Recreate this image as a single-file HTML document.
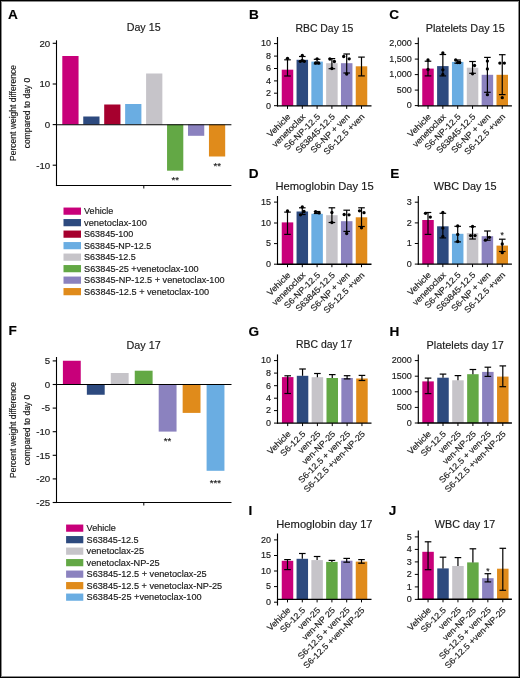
<!DOCTYPE html><html><head><meta charset="utf-8"><style>html,body{margin:0;padding:0;background:#fff;width:520px;height:678px;overflow:hidden;position:relative}text{stroke:#1a1a1a;stroke-width:0.16px}</style></head><body><svg width="520" height="678" viewBox="0 0 520 678" style="position:absolute;left:0;top:0;will-change:transform;font-family:'Liberation Sans', sans-serif" fill="#1a1a1a">
<rect x="0" y="0" width="520" height="678" fill="#fff"/>
<text x="8.0" y="18.6" font-size="13.6" font-weight="bold" fill="#000" stroke="#000" stroke-width="0.25">A</text>
<text x="249.0" y="18.7" font-size="13.6" font-weight="bold" fill="#000" stroke="#000" stroke-width="0.25">B</text>
<text x="389.3" y="18.8" font-size="13.6" font-weight="bold" fill="#000" stroke="#000" stroke-width="0.25">C</text>
<text x="248.8" y="178.0" font-size="13.6" font-weight="bold" fill="#000" stroke="#000" stroke-width="0.25">D</text>
<text x="390.2" y="178.0" font-size="13.6" font-weight="bold" fill="#000" stroke="#000" stroke-width="0.25">E</text>
<text x="8.6" y="335.3" font-size="13.6" font-weight="bold" fill="#000" stroke="#000" stroke-width="0.25">F</text>
<text x="248.6" y="335.7" font-size="13.6" font-weight="bold" fill="#000" stroke="#000" stroke-width="0.25">G</text>
<text x="389.6" y="336.0" font-size="13.6" font-weight="bold" fill="#000" stroke="#000" stroke-width="0.25">H</text>
<text x="248.6" y="515.0999999999999" font-size="13.6" font-weight="bold" fill="#000" stroke="#000" stroke-width="0.25">I</text>
<text x="388.8" y="514.5999999999999" font-size="13.6" font-weight="bold" fill="#000" stroke="#000" stroke-width="0.25">J</text>
<text x="126.69999999999999" y="30.9" font-size="10.6" textLength="33.9" lengthAdjust="spacingAndGlyphs">Day 15</text>
<text x="295.40000000000003" y="31.6" font-size="10.6" textLength="58.0" lengthAdjust="spacingAndGlyphs">RBC Day 15</text>
<text x="425.70000000000005" y="31.6" font-size="10.6" textLength="79.0" lengthAdjust="spacingAndGlyphs">Platelets Day 15</text>
<text x="275.5" y="189.8" font-size="10.6" textLength="98.1" lengthAdjust="spacingAndGlyphs">Hemoglobin Day 15</text>
<text x="433.8" y="190.1" font-size="10.6" textLength="62.8" lengthAdjust="spacingAndGlyphs">WBC Day 15</text>
<text x="126.5" y="349.2" font-size="10.6" textLength="34.3" lengthAdjust="spacingAndGlyphs">Day 17</text>
<text x="296.0" y="348.2" font-size="10.6" textLength="56.2" lengthAdjust="spacingAndGlyphs">RBC day 17</text>
<text x="426.5" y="348.5" font-size="10.6" textLength="77.3" lengthAdjust="spacingAndGlyphs">Platelets day 17</text>
<text x="276.3" y="527.5" font-size="10.6" textLength="96.3" lengthAdjust="spacingAndGlyphs">Hemoglobin day 17</text>
<text x="434.8" y="527.5" font-size="10.6" textLength="60.4" lengthAdjust="spacingAndGlyphs">WBC day 17</text>
<rect x="62.30" y="56.00" width="16.25" height="68.50" fill="#c8007a"/>
<rect x="83.25" y="116.50" width="16.25" height="8.00" fill="#2d4a7f"/>
<rect x="104.20" y="104.50" width="16.25" height="20.00" fill="#a6002e"/>
<rect x="125.15" y="104.00" width="16.25" height="20.50" fill="#6aade2"/>
<rect x="146.10" y="73.50" width="16.25" height="51.00" fill="#c6c4c9"/>
<rect x="167.05" y="124.50" width="16.25" height="46.20" fill="#63a845"/>
<rect x="188.00" y="124.50" width="16.25" height="11.30" fill="#8b82bf"/>
<rect x="208.95" y="124.50" width="16.25" height="32.00" fill="#e08b1b"/>
<line x1="56.5" y1="40.3" x2="56.5" y2="186.05" stroke="#000" stroke-width="1.1"/>
<line x1="55.95" y1="124.75" x2="231.4" y2="124.75" stroke="#000" stroke-width="1.1"/>
<line x1="55.95" y1="185.5" x2="231.4" y2="185.5" stroke="#000" stroke-width="1.1"/>
<line x1="143.8" y1="185.5" x2="143.8" y2="188.5" stroke="#000" stroke-width="1.0"/>
<line x1="52.7" y1="43.3" x2="56.5" y2="43.3" stroke="#000" stroke-width="1.1"/>
<text x="50.2" y="46.599999999999994" font-size="9.7" text-anchor="end">20</text>
<line x1="52.7" y1="84.0" x2="56.5" y2="84.0" stroke="#000" stroke-width="1.1"/>
<text x="50.2" y="87.3" font-size="9.7" text-anchor="end">10</text>
<line x1="52.7" y1="124.6" x2="56.5" y2="124.6" stroke="#000" stroke-width="1.1"/>
<text x="50.2" y="127.89999999999999" font-size="9.7" text-anchor="end">0</text>
<line x1="52.7" y1="165.2" x2="56.5" y2="165.2" stroke="#000" stroke-width="1.1"/>
<text x="50.2" y="168.5" font-size="9.7" text-anchor="end">-10</text>
<text x="175.3" y="183.0" font-size="9.6" text-anchor="middle">**</text>
<text x="217.2" y="168.7" font-size="9.6" text-anchor="middle">**</text>
<text transform="translate(15.9,113.0) rotate(-90)" font-size="8.5" text-anchor="middle">Percent weight difference</text>
<text transform="translate(30.1,113.0) rotate(-90)" font-size="8.5" text-anchor="middle">compared to day 0</text>
<rect x="63.50" y="207.55" width="17.50" height="7.20" fill="#c8007a"/>
<text x="84.1" y="214.25" font-size="8.6" textLength="29.1" lengthAdjust="spacingAndGlyphs">Vehicle</text>
<rect x="63.50" y="219.05" width="17.50" height="7.20" fill="#2d4a7f"/>
<text x="84.1" y="225.75" font-size="8.6" textLength="62.8" lengthAdjust="spacingAndGlyphs">venetoclax-100</text>
<rect x="63.50" y="230.55" width="17.50" height="7.20" fill="#a6002e"/>
<text x="84.1" y="237.25" font-size="8.6" textLength="49.1" lengthAdjust="spacingAndGlyphs">S63845-100</text>
<rect x="63.50" y="242.05" width="17.50" height="7.20" fill="#6aade2"/>
<text x="84.1" y="248.75" font-size="8.6" textLength="67.1" lengthAdjust="spacingAndGlyphs">S63845-NP-12.5</text>
<rect x="63.50" y="253.55" width="17.50" height="7.20" fill="#c6c4c9"/>
<text x="84.1" y="260.25" font-size="8.6" textLength="51.7" lengthAdjust="spacingAndGlyphs">S63845-12.5</text>
<rect x="63.50" y="265.05" width="17.50" height="7.20" fill="#63a845"/>
<text x="84.1" y="271.75" font-size="8.6" textLength="114.6" lengthAdjust="spacingAndGlyphs">S63845-25 +venetoclax-100</text>
<rect x="63.50" y="276.55" width="17.50" height="7.20" fill="#8b82bf"/>
<text x="84.1" y="283.25" font-size="8.6" textLength="140.5" lengthAdjust="spacingAndGlyphs">S63845-NP-12.5 + venetoclax-100</text>
<rect x="63.50" y="288.05" width="17.50" height="7.20" fill="#e08b1b"/>
<text x="84.1" y="294.75" font-size="8.6" textLength="125.1" lengthAdjust="spacingAndGlyphs">S63845-12.5 + venetoclax-100</text>
<rect x="62.90" y="360.75" width="17.85" height="23.75" fill="#c8007a"/>
<rect x="86.85" y="384.50" width="17.85" height="10.25" fill="#2d4a7f"/>
<rect x="110.80" y="373.00" width="17.85" height="11.50" fill="#c6c4c9"/>
<rect x="134.75" y="370.70" width="17.85" height="13.80" fill="#63a845"/>
<rect x="158.70" y="384.50" width="17.85" height="47.10" fill="#8b82bf"/>
<rect x="182.65" y="384.50" width="17.85" height="28.40" fill="#e08b1b"/>
<rect x="206.60" y="384.50" width="17.85" height="86.30" fill="#6aade2"/>
<line x1="56.5" y1="357.0" x2="56.5" y2="503.05" stroke="#000" stroke-width="1.1"/>
<line x1="55.95" y1="384.5" x2="231.5" y2="384.5" stroke="#000" stroke-width="1.1"/>
<line x1="55.95" y1="502.5" x2="231.5" y2="502.5" stroke="#000" stroke-width="1.1"/>
<line x1="143.8" y1="502.5" x2="143.8" y2="505.5" stroke="#000" stroke-width="1.0"/>
<line x1="52.7" y1="360.9" x2="56.5" y2="360.9" stroke="#000" stroke-width="1.1"/>
<text x="50.2" y="364.2" font-size="9.7" text-anchor="end">5</text>
<line x1="52.7" y1="384.5" x2="56.5" y2="384.5" stroke="#000" stroke-width="1.1"/>
<text x="50.2" y="387.8" font-size="9.7" text-anchor="end">0</text>
<line x1="52.7" y1="408.1" x2="56.5" y2="408.1" stroke="#000" stroke-width="1.1"/>
<text x="50.2" y="411.40000000000003" font-size="9.7" text-anchor="end">-5</text>
<line x1="52.7" y1="431.7" x2="56.5" y2="431.7" stroke="#000" stroke-width="1.1"/>
<text x="50.2" y="435.0" font-size="9.7" text-anchor="end">-10</text>
<line x1="52.7" y1="455.3" x2="56.5" y2="455.3" stroke="#000" stroke-width="1.1"/>
<text x="50.2" y="458.6" font-size="9.7" text-anchor="end">-15</text>
<line x1="52.7" y1="478.9" x2="56.5" y2="478.9" stroke="#000" stroke-width="1.1"/>
<text x="50.2" y="482.2" font-size="9.7" text-anchor="end">-20</text>
<line x1="52.7" y1="502.5" x2="56.5" y2="502.5" stroke="#000" stroke-width="1.1"/>
<text x="50.2" y="505.8" font-size="9.7" text-anchor="end">-25</text>
<text x="167.5" y="443.8" font-size="9.6" text-anchor="middle">**</text>
<text x="215.3" y="486.09999999999997" font-size="9.6" text-anchor="middle">***</text>
<text transform="translate(15.5,430.0) rotate(-90)" font-size="8.5" text-anchor="middle">Percent weight difference</text>
<text transform="translate(30.4,430.0) rotate(-90)" font-size="8.5" text-anchor="middle">compared to day 0</text>
<rect x="66.10" y="524.55" width="17.20" height="7.20" fill="#c8007a"/>
<text x="86.6" y="531.25" font-size="8.6" textLength="29.3" lengthAdjust="spacingAndGlyphs">Vehicle</text>
<rect x="66.10" y="536.05" width="17.20" height="7.20" fill="#2d4a7f"/>
<text x="86.6" y="542.75" font-size="8.6" textLength="52.05" lengthAdjust="spacingAndGlyphs">S63845-12.5</text>
<rect x="66.10" y="547.55" width="17.20" height="7.20" fill="#c6c4c9"/>
<text x="86.6" y="554.25" font-size="8.6" textLength="57.55" lengthAdjust="spacingAndGlyphs">venetoclax-25</text>
<rect x="66.10" y="559.05" width="17.20" height="7.20" fill="#63a845"/>
<text x="86.6" y="565.75" font-size="8.6" textLength="73.05" lengthAdjust="spacingAndGlyphs">venetoclax-NP-25</text>
<rect x="66.10" y="570.55" width="17.20" height="7.20" fill="#8b82bf"/>
<text x="86.6" y="577.25" font-size="8.6" textLength="120.05" lengthAdjust="spacingAndGlyphs">S63845-12.5 + venetoclax-25</text>
<rect x="66.10" y="582.05" width="17.20" height="7.20" fill="#e08b1b"/>
<text x="86.6" y="588.75" font-size="8.6" textLength="135.55" lengthAdjust="spacingAndGlyphs">S63845-12.5 + venetoclax-NP-25</text>
<rect x="66.10" y="593.55" width="17.20" height="7.20" fill="#6aade2"/>
<text x="86.6" y="600.25" font-size="8.6" textLength="115.05" lengthAdjust="spacingAndGlyphs">S63845-25 +venetoclax-100</text>
<rect x="281.75" y="69.70" width="11.50" height="36.20" fill="#c8007a"/>
<rect x="296.55" y="59.80" width="11.50" height="46.10" fill="#2d4a7f"/>
<rect x="311.35" y="61.60" width="11.50" height="44.30" fill="#6aade2"/>
<rect x="326.15" y="63.20" width="11.50" height="42.70" fill="#c6c4c9"/>
<rect x="340.95" y="63.20" width="11.50" height="42.70" fill="#8b82bf"/>
<rect x="355.75" y="66.30" width="11.50" height="39.60" fill="#e08b1b"/>
<line x1="287.5" y1="59.8" x2="287.5" y2="76.0" stroke="#000" stroke-width="1.2"/>
<line x1="284.2" y1="59.8" x2="290.8" y2="59.8" stroke="#000" stroke-width="1.2"/>
<line x1="284.2" y1="76.0" x2="290.8" y2="76.0" stroke="#000" stroke-width="1.2"/>
<circle cx="287.50" cy="58.30" r="1.65" fill="#000"/>
<line x1="302.3" y1="56.5" x2="302.3" y2="61.5" stroke="#000" stroke-width="1.2"/>
<line x1="299.0" y1="56.5" x2="305.6" y2="56.5" stroke="#000" stroke-width="1.2"/>
<line x1="299.0" y1="61.5" x2="305.6" y2="61.5" stroke="#000" stroke-width="1.2"/>
<circle cx="302.30" cy="55.50" r="1.65" fill="#000"/>
<circle cx="300.30" cy="61.30" r="1.65" fill="#000"/>
<circle cx="304.30" cy="61.30" r="1.65" fill="#000"/>
<circle cx="302.30" cy="60.50" r="1.65" fill="#000"/>
<line x1="317.1" y1="59.3" x2="317.1" y2="63.8" stroke="#000" stroke-width="1.2"/>
<line x1="313.8" y1="59.3" x2="320.40000000000003" y2="59.3" stroke="#000" stroke-width="1.2"/>
<line x1="313.8" y1="63.8" x2="320.40000000000003" y2="63.8" stroke="#000" stroke-width="1.2"/>
<circle cx="317.10" cy="58.80" r="1.65" fill="#000"/>
<circle cx="315.60" cy="63.00" r="1.65" fill="#000"/>
<circle cx="318.60" cy="63.00" r="1.65" fill="#000"/>
<line x1="331.9" y1="58.6" x2="331.9" y2="68.7" stroke="#000" stroke-width="1.2"/>
<line x1="328.59999999999997" y1="58.6" x2="335.2" y2="58.6" stroke="#000" stroke-width="1.2"/>
<line x1="328.59999999999997" y1="68.7" x2="335.2" y2="68.7" stroke="#000" stroke-width="1.2"/>
<circle cx="329.90" cy="59.00" r="1.65" fill="#000"/>
<circle cx="334.40" cy="61.50" r="1.65" fill="#000"/>
<circle cx="331.90" cy="68.50" r="1.65" fill="#000"/>
<line x1="346.7" y1="54.0" x2="346.7" y2="73.0" stroke="#000" stroke-width="1.2"/>
<line x1="343.4" y1="54.0" x2="350.0" y2="54.0" stroke="#000" stroke-width="1.2"/>
<line x1="343.4" y1="73.0" x2="350.0" y2="73.0" stroke="#000" stroke-width="1.2"/>
<circle cx="343.70" cy="56.50" r="1.65" fill="#000"/>
<circle cx="349.20" cy="58.80" r="1.65" fill="#000"/>
<circle cx="346.70" cy="74.00" r="1.65" fill="#000"/>
<line x1="361.5" y1="57.1" x2="361.5" y2="75.9" stroke="#000" stroke-width="1.2"/>
<line x1="358.2" y1="57.1" x2="364.8" y2="57.1" stroke="#000" stroke-width="1.2"/>
<line x1="358.2" y1="75.9" x2="364.8" y2="75.9" stroke="#000" stroke-width="1.2"/>
<line x1="277.5" y1="37.0" x2="277.5" y2="106.45" stroke="#000" stroke-width="1.15"/>
<line x1="276.95" y1="105.9" x2="371.5" y2="105.9" stroke="#000" stroke-width="1.4"/>
<line x1="287.5" y1="105.9" x2="287.5" y2="108.9" stroke="#000" stroke-width="1.0"/>
<line x1="302.3" y1="105.9" x2="302.3" y2="108.9" stroke="#000" stroke-width="1.0"/>
<line x1="317.1" y1="105.9" x2="317.1" y2="108.9" stroke="#000" stroke-width="1.0"/>
<line x1="331.9" y1="105.9" x2="331.9" y2="108.9" stroke="#000" stroke-width="1.0"/>
<line x1="346.7" y1="105.9" x2="346.7" y2="108.9" stroke="#000" stroke-width="1.0"/>
<line x1="361.5" y1="105.9" x2="361.5" y2="108.9" stroke="#000" stroke-width="1.0"/>
<line x1="274.0" y1="43.6" x2="277.5" y2="43.6" stroke="#000" stroke-width="1.0"/>
<text x="270.9" y="46.4" font-size="9" text-anchor="end">10</text>
<line x1="274.0" y1="56.1" x2="277.5" y2="56.1" stroke="#000" stroke-width="1.0"/>
<text x="270.9" y="58.9" font-size="9" text-anchor="end">8</text>
<line x1="274.0" y1="68.5" x2="277.5" y2="68.5" stroke="#000" stroke-width="1.0"/>
<text x="270.9" y="71.3" font-size="9" text-anchor="end">6</text>
<line x1="274.0" y1="80.9" x2="277.5" y2="80.9" stroke="#000" stroke-width="1.0"/>
<text x="270.9" y="83.7" font-size="9" text-anchor="end">4</text>
<line x1="274.0" y1="93.2" x2="277.5" y2="93.2" stroke="#000" stroke-width="1.0"/>
<text x="270.9" y="96.0" font-size="9" text-anchor="end">2</text>
<line x1="274.0" y1="105.7" x2="277.5" y2="105.7" stroke="#000" stroke-width="1.0"/>
<text x="270.9" y="108.5" font-size="9" text-anchor="end">0</text>
<text transform="translate(291.10,117.30) rotate(-45) scale(1.05,1)" font-size="8.6" text-anchor="end">Vehicle</text>
<text transform="translate(305.90,117.30) rotate(-45) scale(1.05,1)" font-size="8.6" text-anchor="end">venetoclax</text>
<text transform="translate(320.70,117.30) rotate(-45) scale(1.05,1)" font-size="8.6" text-anchor="end">S6-NP-12.5</text>
<text transform="translate(335.50,117.30) rotate(-45) scale(1.05,1)" font-size="8.6" text-anchor="end">S63845-12.5</text>
<text transform="translate(350.30,117.30) rotate(-45) scale(1.05,1)" font-size="8.6" text-anchor="end">S6-NP + ven</text>
<text transform="translate(365.10,117.30) rotate(-45) scale(1.05,1)" font-size="8.6" text-anchor="end">S6-12.5 +ven</text>
<rect x="422.25" y="68.60" width="11.50" height="37.30" fill="#c8007a"/>
<rect x="437.10" y="66.10" width="11.50" height="39.80" fill="#2d4a7f"/>
<rect x="451.95" y="61.90" width="11.50" height="44.00" fill="#6aade2"/>
<rect x="466.80" y="67.70" width="11.50" height="38.20" fill="#c6c4c9"/>
<rect x="481.65" y="74.80" width="11.50" height="31.10" fill="#8b82bf"/>
<rect x="496.50" y="74.80" width="11.50" height="31.10" fill="#e08b1b"/>
<line x1="428.0" y1="61.2" x2="428.0" y2="75.9" stroke="#000" stroke-width="1.2"/>
<line x1="424.7" y1="61.2" x2="431.3" y2="61.2" stroke="#000" stroke-width="1.2"/>
<line x1="424.7" y1="75.9" x2="431.3" y2="75.9" stroke="#000" stroke-width="1.2"/>
<circle cx="428.00" cy="60.00" r="1.65" fill="#000"/>
<circle cx="428.00" cy="69.50" r="1.65" fill="#000"/>
<line x1="442.85" y1="54.5" x2="442.85" y2="75.9" stroke="#000" stroke-width="1.2"/>
<line x1="439.55" y1="54.5" x2="446.15000000000003" y2="54.5" stroke="#000" stroke-width="1.2"/>
<line x1="439.55" y1="75.9" x2="446.15000000000003" y2="75.9" stroke="#000" stroke-width="1.2"/>
<circle cx="442.85" cy="53.00" r="1.65" fill="#000"/>
<circle cx="442.85" cy="69.80" r="1.65" fill="#000"/>
<circle cx="442.85" cy="74.50" r="1.65" fill="#000"/>
<line x1="457.7" y1="60.0" x2="457.7" y2="63.2" stroke="#000" stroke-width="1.2"/>
<line x1="454.4" y1="60.0" x2="461.0" y2="60.0" stroke="#000" stroke-width="1.2"/>
<line x1="454.4" y1="63.2" x2="461.0" y2="63.2" stroke="#000" stroke-width="1.2"/>
<circle cx="455.70" cy="60.00" r="1.65" fill="#000"/>
<circle cx="457.70" cy="62.50" r="1.65" fill="#000"/>
<circle cx="459.70" cy="62.50" r="1.65" fill="#000"/>
<line x1="472.55" y1="61.5" x2="472.55" y2="73.3" stroke="#000" stroke-width="1.2"/>
<line x1="469.25" y1="61.5" x2="475.85" y2="61.5" stroke="#000" stroke-width="1.2"/>
<line x1="469.25" y1="73.3" x2="475.85" y2="73.3" stroke="#000" stroke-width="1.2"/>
<circle cx="474.55" cy="65.50" r="1.65" fill="#000"/>
<circle cx="472.55" cy="73.80" r="1.65" fill="#000"/>
<line x1="487.4" y1="57.4" x2="487.4" y2="92.3" stroke="#000" stroke-width="1.2"/>
<line x1="484.09999999999997" y1="57.4" x2="490.7" y2="57.4" stroke="#000" stroke-width="1.2"/>
<line x1="484.09999999999997" y1="92.3" x2="490.7" y2="92.3" stroke="#000" stroke-width="1.2"/>
<circle cx="487.40" cy="61.10" r="1.65" fill="#000"/>
<circle cx="487.40" cy="68.90" r="1.65" fill="#000"/>
<circle cx="487.40" cy="94.70" r="1.65" fill="#000"/>
<line x1="502.25" y1="54.7" x2="502.25" y2="94.6" stroke="#000" stroke-width="1.2"/>
<line x1="498.95" y1="54.7" x2="505.55" y2="54.7" stroke="#000" stroke-width="1.2"/>
<line x1="498.95" y1="94.6" x2="505.55" y2="94.6" stroke="#000" stroke-width="1.2"/>
<circle cx="499.85" cy="63.10" r="1.65" fill="#000"/>
<circle cx="504.35" cy="63.10" r="1.65" fill="#000"/>
<circle cx="502.25" cy="97.70" r="1.65" fill="#000"/>
<line x1="418.3" y1="37.4" x2="418.3" y2="106.45" stroke="#000" stroke-width="1.15"/>
<line x1="417.75" y1="105.9" x2="511.9" y2="105.9" stroke="#000" stroke-width="1.4"/>
<line x1="428.0" y1="105.9" x2="428.0" y2="108.9" stroke="#000" stroke-width="1.0"/>
<line x1="442.85" y1="105.9" x2="442.85" y2="108.9" stroke="#000" stroke-width="1.0"/>
<line x1="457.7" y1="105.9" x2="457.7" y2="108.9" stroke="#000" stroke-width="1.0"/>
<line x1="472.55" y1="105.9" x2="472.55" y2="108.9" stroke="#000" stroke-width="1.0"/>
<line x1="487.4" y1="105.9" x2="487.4" y2="108.9" stroke="#000" stroke-width="1.0"/>
<line x1="502.25" y1="105.9" x2="502.25" y2="108.9" stroke="#000" stroke-width="1.0"/>
<line x1="414.8" y1="43.6" x2="418.3" y2="43.6" stroke="#000" stroke-width="1.0"/>
<text x="411.7" y="46.4" font-size="9" text-anchor="end">2,000</text>
<line x1="414.8" y1="59.1" x2="418.3" y2="59.1" stroke="#000" stroke-width="1.0"/>
<text x="411.7" y="61.9" font-size="9" text-anchor="end">1,500</text>
<line x1="414.8" y1="74.6" x2="418.3" y2="74.6" stroke="#000" stroke-width="1.0"/>
<text x="411.7" y="77.39999999999999" font-size="9" text-anchor="end">1,000</text>
<line x1="414.8" y1="90.1" x2="418.3" y2="90.1" stroke="#000" stroke-width="1.0"/>
<text x="411.7" y="92.89999999999999" font-size="9" text-anchor="end">500</text>
<line x1="414.8" y1="105.6" x2="418.3" y2="105.6" stroke="#000" stroke-width="1.0"/>
<text x="411.7" y="108.39999999999999" font-size="9" text-anchor="end">0</text>
<text transform="translate(431.60,117.30) rotate(-45) scale(1.05,1)" font-size="8.6" text-anchor="end">Vehicle</text>
<text transform="translate(446.45,117.30) rotate(-45) scale(1.05,1)" font-size="8.6" text-anchor="end">venetoclax</text>
<text transform="translate(461.30,117.30) rotate(-45) scale(1.05,1)" font-size="8.6" text-anchor="end">S6-NP-12.5</text>
<text transform="translate(476.15,117.30) rotate(-45) scale(1.05,1)" font-size="8.6" text-anchor="end">S63845-12.5</text>
<text transform="translate(491.00,117.30) rotate(-45) scale(1.05,1)" font-size="8.6" text-anchor="end">S6-NP + ven</text>
<text transform="translate(505.85,117.30) rotate(-45) scale(1.05,1)" font-size="8.6" text-anchor="end">S6-12.5 +ven</text>
<rect x="281.75" y="222.40" width="11.50" height="41.80" fill="#c8007a"/>
<rect x="296.55" y="211.50" width="11.50" height="52.70" fill="#2d4a7f"/>
<rect x="311.35" y="213.80" width="11.50" height="50.40" fill="#6aade2"/>
<rect x="326.15" y="215.20" width="11.50" height="49.00" fill="#c6c4c9"/>
<rect x="340.95" y="221.20" width="11.50" height="43.00" fill="#8b82bf"/>
<rect x="355.75" y="217.30" width="11.50" height="46.90" fill="#e08b1b"/>
<line x1="287.5" y1="212.1" x2="287.5" y2="234.4" stroke="#000" stroke-width="1.2"/>
<line x1="284.2" y1="212.1" x2="290.8" y2="212.1" stroke="#000" stroke-width="1.2"/>
<line x1="284.2" y1="234.4" x2="290.8" y2="234.4" stroke="#000" stroke-width="1.2"/>
<circle cx="287.50" cy="211.00" r="1.65" fill="#000"/>
<line x1="302.3" y1="207.8" x2="302.3" y2="214.5" stroke="#000" stroke-width="1.2"/>
<line x1="299.0" y1="207.8" x2="305.6" y2="207.8" stroke="#000" stroke-width="1.2"/>
<line x1="299.0" y1="214.5" x2="305.6" y2="214.5" stroke="#000" stroke-width="1.2"/>
<circle cx="302.30" cy="207.00" r="1.65" fill="#000"/>
<circle cx="300.50" cy="214.80" r="1.65" fill="#000"/>
<circle cx="304.00" cy="211.50" r="1.65" fill="#000"/>
<line x1="317.1" y1="211.5" x2="317.1" y2="213.5" stroke="#000" stroke-width="1.2"/>
<line x1="313.8" y1="211.5" x2="320.40000000000003" y2="211.5" stroke="#000" stroke-width="1.2"/>
<line x1="313.8" y1="213.5" x2="320.40000000000003" y2="213.5" stroke="#000" stroke-width="1.2"/>
<circle cx="315.60" cy="211.70" r="1.65" fill="#000"/>
<circle cx="319.10" cy="212.90" r="1.65" fill="#000"/>
<line x1="331.9" y1="207.8" x2="331.9" y2="222.5" stroke="#000" stroke-width="1.2"/>
<line x1="328.59999999999997" y1="207.8" x2="335.2" y2="207.8" stroke="#000" stroke-width="1.2"/>
<line x1="328.59999999999997" y1="222.5" x2="335.2" y2="222.5" stroke="#000" stroke-width="1.2"/>
<circle cx="331.90" cy="212.50" r="1.65" fill="#000"/>
<circle cx="331.90" cy="222.50" r="1.65" fill="#000"/>
<line x1="346.7" y1="210.2" x2="346.7" y2="231.4" stroke="#000" stroke-width="1.2"/>
<line x1="343.4" y1="210.2" x2="350.0" y2="210.2" stroke="#000" stroke-width="1.2"/>
<line x1="343.4" y1="231.4" x2="350.0" y2="231.4" stroke="#000" stroke-width="1.2"/>
<circle cx="344.20" cy="214.50" r="1.65" fill="#000"/>
<circle cx="349.00" cy="214.80" r="1.65" fill="#000"/>
<circle cx="346.70" cy="233.50" r="1.65" fill="#000"/>
<line x1="361.5" y1="207.8" x2="361.5" y2="226.5" stroke="#000" stroke-width="1.2"/>
<line x1="358.2" y1="207.8" x2="364.8" y2="207.8" stroke="#000" stroke-width="1.2"/>
<line x1="358.2" y1="226.5" x2="364.8" y2="226.5" stroke="#000" stroke-width="1.2"/>
<circle cx="359.50" cy="210.80" r="1.65" fill="#000"/>
<circle cx="364.00" cy="212.70" r="1.65" fill="#000"/>
<circle cx="361.50" cy="227.80" r="1.65" fill="#000"/>
<line x1="277.5" y1="196.0" x2="277.5" y2="264.75" stroke="#000" stroke-width="1.15"/>
<line x1="276.95" y1="264.2" x2="371.5" y2="264.2" stroke="#000" stroke-width="1.4"/>
<line x1="287.5" y1="264.2" x2="287.5" y2="267.2" stroke="#000" stroke-width="1.0"/>
<line x1="302.3" y1="264.2" x2="302.3" y2="267.2" stroke="#000" stroke-width="1.0"/>
<line x1="317.1" y1="264.2" x2="317.1" y2="267.2" stroke="#000" stroke-width="1.0"/>
<line x1="331.9" y1="264.2" x2="331.9" y2="267.2" stroke="#000" stroke-width="1.0"/>
<line x1="346.7" y1="264.2" x2="346.7" y2="267.2" stroke="#000" stroke-width="1.0"/>
<line x1="361.5" y1="264.2" x2="361.5" y2="267.2" stroke="#000" stroke-width="1.0"/>
<line x1="274.0" y1="202.1" x2="277.5" y2="202.1" stroke="#000" stroke-width="1.0"/>
<text x="270.9" y="204.9" font-size="9" text-anchor="end">15</text>
<line x1="274.0" y1="223.0" x2="277.5" y2="223.0" stroke="#000" stroke-width="1.0"/>
<text x="270.9" y="225.8" font-size="9" text-anchor="end">10</text>
<line x1="274.0" y1="243.6" x2="277.5" y2="243.6" stroke="#000" stroke-width="1.0"/>
<text x="270.9" y="246.4" font-size="9" text-anchor="end">5</text>
<line x1="274.0" y1="264.2" x2="277.5" y2="264.2" stroke="#000" stroke-width="1.0"/>
<text x="270.9" y="267.0" font-size="9" text-anchor="end">0</text>
<text transform="translate(291.10,275.60) rotate(-45) scale(1.05,1)" font-size="8.6" text-anchor="end">Vehicle</text>
<text transform="translate(305.90,275.60) rotate(-45) scale(1.05,1)" font-size="8.6" text-anchor="end">venetoclax</text>
<text transform="translate(320.70,275.60) rotate(-45) scale(1.05,1)" font-size="8.6" text-anchor="end">S6-NP-12.5</text>
<text transform="translate(335.50,275.60) rotate(-45) scale(1.05,1)" font-size="8.6" text-anchor="end">S63845-12.5</text>
<text transform="translate(350.30,275.60) rotate(-45) scale(1.05,1)" font-size="8.6" text-anchor="end">S6-NP + ven</text>
<text transform="translate(365.10,275.60) rotate(-45) scale(1.05,1)" font-size="8.6" text-anchor="end">S6-12.5 +ven</text>
<rect x="422.25" y="220.00" width="11.50" height="44.10" fill="#c8007a"/>
<rect x="437.10" y="226.30" width="11.50" height="37.80" fill="#2d4a7f"/>
<rect x="451.95" y="233.80" width="11.50" height="30.30" fill="#6aade2"/>
<rect x="466.80" y="233.10" width="11.50" height="31.00" fill="#c6c4c9"/>
<rect x="481.65" y="236.20" width="11.50" height="27.90" fill="#8b82bf"/>
<rect x="496.50" y="245.60" width="11.50" height="18.50" fill="#e08b1b"/>
<line x1="428.0" y1="212.5" x2="428.0" y2="234.4" stroke="#000" stroke-width="1.2"/>
<line x1="424.7" y1="212.5" x2="431.3" y2="212.5" stroke="#000" stroke-width="1.2"/>
<line x1="424.7" y1="234.4" x2="431.3" y2="234.4" stroke="#000" stroke-width="1.2"/>
<circle cx="425.50" cy="213.30" r="1.65" fill="#000"/>
<circle cx="430.30" cy="217.10" r="1.65" fill="#000"/>
<line x1="442.85" y1="213.3" x2="442.85" y2="237.9" stroke="#000" stroke-width="1.2"/>
<line x1="439.55" y1="213.3" x2="446.15000000000003" y2="213.3" stroke="#000" stroke-width="1.2"/>
<line x1="439.55" y1="237.9" x2="446.15000000000003" y2="237.9" stroke="#000" stroke-width="1.2"/>
<circle cx="442.85" cy="212.50" r="1.65" fill="#000"/>
<circle cx="442.85" cy="228.10" r="1.65" fill="#000"/>
<circle cx="442.85" cy="236.50" r="1.65" fill="#000"/>
<line x1="457.7" y1="226.3" x2="457.7" y2="241.9" stroke="#000" stroke-width="1.2"/>
<line x1="454.4" y1="226.3" x2="461.0" y2="226.3" stroke="#000" stroke-width="1.2"/>
<line x1="454.4" y1="241.9" x2="461.0" y2="241.9" stroke="#000" stroke-width="1.2"/>
<circle cx="457.70" cy="226.00" r="1.65" fill="#000"/>
<circle cx="457.70" cy="234.40" r="1.65" fill="#000"/>
<circle cx="457.70" cy="241.50" r="1.65" fill="#000"/>
<line x1="472.55" y1="226.7" x2="472.55" y2="239.0" stroke="#000" stroke-width="1.2"/>
<line x1="469.25" y1="226.7" x2="475.85" y2="226.7" stroke="#000" stroke-width="1.2"/>
<line x1="469.25" y1="239.0" x2="475.85" y2="239.0" stroke="#000" stroke-width="1.2"/>
<circle cx="472.55" cy="226.50" r="1.65" fill="#000"/>
<circle cx="470.55" cy="235.60" r="1.65" fill="#000"/>
<circle cx="475.05" cy="235.60" r="1.65" fill="#000"/>
<line x1="487.4" y1="231.0" x2="487.4" y2="240.2" stroke="#000" stroke-width="1.2"/>
<line x1="484.09999999999997" y1="231.0" x2="490.7" y2="231.0" stroke="#000" stroke-width="1.2"/>
<line x1="484.09999999999997" y1="240.2" x2="490.7" y2="240.2" stroke="#000" stroke-width="1.2"/>
<circle cx="489.40" cy="237.30" r="1.65" fill="#000"/>
<circle cx="485.40" cy="240.20" r="1.65" fill="#000"/>
<line x1="502.25" y1="239.2" x2="502.25" y2="251.5" stroke="#000" stroke-width="1.2"/>
<line x1="498.95" y1="239.2" x2="505.55" y2="239.2" stroke="#000" stroke-width="1.2"/>
<line x1="498.95" y1="251.5" x2="505.55" y2="251.5" stroke="#000" stroke-width="1.2"/>
<circle cx="502.25" cy="244.00" r="1.65" fill="#000"/>
<circle cx="502.25" cy="252.70" r="1.65" fill="#000"/>
<line x1="418.3" y1="196.0" x2="418.3" y2="264.65000000000003" stroke="#000" stroke-width="1.15"/>
<line x1="417.75" y1="264.1" x2="511.9" y2="264.1" stroke="#000" stroke-width="1.4"/>
<line x1="428.0" y1="264.1" x2="428.0" y2="267.1" stroke="#000" stroke-width="1.0"/>
<line x1="442.85" y1="264.1" x2="442.85" y2="267.1" stroke="#000" stroke-width="1.0"/>
<line x1="457.7" y1="264.1" x2="457.7" y2="267.1" stroke="#000" stroke-width="1.0"/>
<line x1="472.55" y1="264.1" x2="472.55" y2="267.1" stroke="#000" stroke-width="1.0"/>
<line x1="487.4" y1="264.1" x2="487.4" y2="267.1" stroke="#000" stroke-width="1.0"/>
<line x1="502.25" y1="264.1" x2="502.25" y2="267.1" stroke="#000" stroke-width="1.0"/>
<line x1="414.8" y1="202.2" x2="418.3" y2="202.2" stroke="#000" stroke-width="1.0"/>
<text x="411.7" y="205.0" font-size="9" text-anchor="end">3</text>
<line x1="414.8" y1="222.9" x2="418.3" y2="222.9" stroke="#000" stroke-width="1.0"/>
<text x="411.7" y="225.70000000000002" font-size="9" text-anchor="end">2</text>
<line x1="414.8" y1="243.5" x2="418.3" y2="243.5" stroke="#000" stroke-width="1.0"/>
<text x="411.7" y="246.3" font-size="9" text-anchor="end">1</text>
<line x1="414.8" y1="264.1" x2="418.3" y2="264.1" stroke="#000" stroke-width="1.0"/>
<text x="411.7" y="266.90000000000003" font-size="9" text-anchor="end">0</text>
<text transform="translate(431.60,275.50) rotate(-45) scale(1.05,1)" font-size="8.6" text-anchor="end">Vehicle</text>
<text transform="translate(446.45,275.50) rotate(-45) scale(1.05,1)" font-size="8.6" text-anchor="end">venetoclax</text>
<text transform="translate(461.30,275.50) rotate(-45) scale(1.05,1)" font-size="8.6" text-anchor="end">S6-NP-12.5</text>
<text transform="translate(476.15,275.50) rotate(-45) scale(1.05,1)" font-size="8.6" text-anchor="end">S63845-12.5</text>
<text transform="translate(491.00,275.50) rotate(-45) scale(1.05,1)" font-size="8.6" text-anchor="end">S6-NP + ven</text>
<text transform="translate(505.85,275.50) rotate(-45) scale(1.05,1)" font-size="8.6" text-anchor="end">S6-12.5 +ven</text>
<text x="502.1" y="238.2" font-size="8.5" text-anchor="middle">*</text>
<rect x="281.95" y="377.10" width="11.50" height="46.00" fill="#c8007a"/>
<rect x="296.80" y="375.80" width="11.50" height="47.30" fill="#2d4a7f"/>
<rect x="311.65" y="377.20" width="11.50" height="45.90" fill="#c6c4c9"/>
<rect x="326.50" y="378.00" width="11.50" height="45.10" fill="#63a845"/>
<rect x="341.35" y="378.00" width="11.50" height="45.10" fill="#8b82bf"/>
<rect x="356.20" y="378.50" width="11.50" height="44.60" fill="#e08b1b"/>
<line x1="287.7" y1="375.8" x2="287.7" y2="393.5" stroke="#000" stroke-width="1.2"/>
<line x1="284.4" y1="375.8" x2="291.0" y2="375.8" stroke="#000" stroke-width="1.2"/>
<line x1="284.4" y1="393.5" x2="291.0" y2="393.5" stroke="#000" stroke-width="1.2"/>
<line x1="302.55" y1="369.0" x2="302.55" y2="375.8" stroke="#000" stroke-width="1.2"/>
<line x1="299.25" y1="369.0" x2="305.85" y2="369.0" stroke="#000" stroke-width="1.2"/>
<line x1="317.4" y1="373.5" x2="317.4" y2="377.2" stroke="#000" stroke-width="1.2"/>
<line x1="314.09999999999997" y1="373.5" x2="320.7" y2="373.5" stroke="#000" stroke-width="1.2"/>
<line x1="332.25" y1="374.6" x2="332.25" y2="378.0" stroke="#000" stroke-width="1.2"/>
<line x1="328.95" y1="374.6" x2="335.55" y2="374.6" stroke="#000" stroke-width="1.2"/>
<line x1="347.09999999999997" y1="375.7" x2="347.09999999999997" y2="378.9" stroke="#000" stroke-width="1.2"/>
<line x1="343.79999999999995" y1="375.7" x2="350.4" y2="375.7" stroke="#000" stroke-width="1.2"/>
<line x1="343.79999999999995" y1="378.9" x2="350.4" y2="378.9" stroke="#000" stroke-width="1.2"/>
<line x1="361.95" y1="375.4" x2="361.95" y2="380.5" stroke="#000" stroke-width="1.2"/>
<line x1="358.65" y1="375.4" x2="365.25" y2="375.4" stroke="#000" stroke-width="1.2"/>
<line x1="358.65" y1="380.5" x2="365.25" y2="380.5" stroke="#000" stroke-width="1.2"/>
<line x1="277.5" y1="354.4" x2="277.5" y2="423.65000000000003" stroke="#000" stroke-width="1.15"/>
<line x1="276.95" y1="423.1" x2="371.5" y2="423.1" stroke="#000" stroke-width="1.4"/>
<line x1="287.7" y1="423.1" x2="287.7" y2="426.1" stroke="#000" stroke-width="1.0"/>
<line x1="302.55" y1="423.1" x2="302.55" y2="426.1" stroke="#000" stroke-width="1.0"/>
<line x1="317.4" y1="423.1" x2="317.4" y2="426.1" stroke="#000" stroke-width="1.0"/>
<line x1="332.25" y1="423.1" x2="332.25" y2="426.1" stroke="#000" stroke-width="1.0"/>
<line x1="347.09999999999997" y1="423.1" x2="347.09999999999997" y2="426.1" stroke="#000" stroke-width="1.0"/>
<line x1="361.95" y1="423.1" x2="361.95" y2="426.1" stroke="#000" stroke-width="1.0"/>
<line x1="274.0" y1="360.6" x2="277.5" y2="360.6" stroke="#000" stroke-width="1.0"/>
<text x="270.9" y="363.40000000000003" font-size="9" text-anchor="end">10</text>
<line x1="274.0" y1="373.1" x2="277.5" y2="373.1" stroke="#000" stroke-width="1.0"/>
<text x="270.9" y="375.90000000000003" font-size="9" text-anchor="end">8</text>
<line x1="274.0" y1="385.7" x2="277.5" y2="385.7" stroke="#000" stroke-width="1.0"/>
<text x="270.9" y="388.5" font-size="9" text-anchor="end">6</text>
<line x1="274.0" y1="398.2" x2="277.5" y2="398.2" stroke="#000" stroke-width="1.0"/>
<text x="270.9" y="401.0" font-size="9" text-anchor="end">4</text>
<line x1="274.0" y1="410.6" x2="277.5" y2="410.6" stroke="#000" stroke-width="1.0"/>
<text x="270.9" y="413.40000000000003" font-size="9" text-anchor="end">2</text>
<line x1="274.0" y1="423.1" x2="277.5" y2="423.1" stroke="#000" stroke-width="1.0"/>
<text x="270.9" y="425.90000000000003" font-size="9" text-anchor="end">0</text>
<text transform="translate(291.30,434.50) rotate(-45) scale(1.05,1)" font-size="8.6" text-anchor="end">Vehicle</text>
<text transform="translate(306.15,434.50) rotate(-45) scale(1.05,1)" font-size="8.6" text-anchor="end">S6-12.5</text>
<text transform="translate(321.00,434.50) rotate(-45) scale(1.05,1)" font-size="8.6" text-anchor="end">ven-25</text>
<text transform="translate(335.85,434.50) rotate(-45) scale(1.05,1)" font-size="8.6" text-anchor="end">ven-NP-25</text>
<text transform="translate(350.70,434.50) rotate(-45) scale(1.05,1)" font-size="8.6" text-anchor="end">S6-12.5 + ven-25</text>
<text transform="translate(365.55,434.50) rotate(-45) scale(1.05,1)" font-size="8.6" text-anchor="end">S6-12.5 +ven-NP-25</text>
<rect x="422.30" y="381.40" width="11.50" height="41.60" fill="#c8007a"/>
<rect x="437.25" y="377.70" width="11.50" height="45.30" fill="#2d4a7f"/>
<rect x="452.20" y="380.30" width="11.50" height="42.70" fill="#c6c4c9"/>
<rect x="467.15" y="374.20" width="11.50" height="48.80" fill="#63a845"/>
<rect x="482.10" y="371.90" width="11.50" height="51.10" fill="#8b82bf"/>
<rect x="497.05" y="376.60" width="11.50" height="46.40" fill="#e08b1b"/>
<line x1="428.05" y1="378.1" x2="428.05" y2="393.6" stroke="#000" stroke-width="1.2"/>
<line x1="424.75" y1="378.1" x2="431.35" y2="378.1" stroke="#000" stroke-width="1.2"/>
<line x1="424.75" y1="393.6" x2="431.35" y2="393.6" stroke="#000" stroke-width="1.2"/>
<line x1="443.0" y1="374.1" x2="443.0" y2="377.7" stroke="#000" stroke-width="1.2"/>
<line x1="439.7" y1="374.1" x2="446.3" y2="374.1" stroke="#000" stroke-width="1.2"/>
<line x1="457.95" y1="375.6" x2="457.95" y2="380.3" stroke="#000" stroke-width="1.2"/>
<line x1="454.65" y1="375.6" x2="461.25" y2="375.6" stroke="#000" stroke-width="1.2"/>
<line x1="472.9" y1="369.5" x2="472.9" y2="374.2" stroke="#000" stroke-width="1.2"/>
<line x1="469.59999999999997" y1="369.5" x2="476.2" y2="369.5" stroke="#000" stroke-width="1.2"/>
<line x1="487.85" y1="367.2" x2="487.85" y2="376.4" stroke="#000" stroke-width="1.2"/>
<line x1="484.55" y1="367.2" x2="491.15000000000003" y2="367.2" stroke="#000" stroke-width="1.2"/>
<line x1="484.55" y1="376.4" x2="491.15000000000003" y2="376.4" stroke="#000" stroke-width="1.2"/>
<line x1="502.8" y1="365.9" x2="502.8" y2="386.7" stroke="#000" stroke-width="1.2"/>
<line x1="499.5" y1="365.9" x2="506.1" y2="365.9" stroke="#000" stroke-width="1.2"/>
<line x1="499.5" y1="386.7" x2="506.1" y2="386.7" stroke="#000" stroke-width="1.2"/>
<line x1="418.3" y1="354.4" x2="418.3" y2="423.55" stroke="#000" stroke-width="1.15"/>
<line x1="417.75" y1="423.0" x2="511.9" y2="423.0" stroke="#000" stroke-width="1.4"/>
<line x1="428.05" y1="423.0" x2="428.05" y2="426.0" stroke="#000" stroke-width="1.0"/>
<line x1="443.0" y1="423.0" x2="443.0" y2="426.0" stroke="#000" stroke-width="1.0"/>
<line x1="457.95" y1="423.0" x2="457.95" y2="426.0" stroke="#000" stroke-width="1.0"/>
<line x1="472.9" y1="423.0" x2="472.9" y2="426.0" stroke="#000" stroke-width="1.0"/>
<line x1="487.85" y1="423.0" x2="487.85" y2="426.0" stroke="#000" stroke-width="1.0"/>
<line x1="502.8" y1="423.0" x2="502.8" y2="426.0" stroke="#000" stroke-width="1.0"/>
<line x1="414.8" y1="360.6" x2="418.3" y2="360.6" stroke="#000" stroke-width="1.0"/>
<text x="411.7" y="363.40000000000003" font-size="9" text-anchor="end">2000</text>
<line x1="414.8" y1="376.2" x2="418.3" y2="376.2" stroke="#000" stroke-width="1.0"/>
<text x="411.7" y="379.0" font-size="9" text-anchor="end">1500</text>
<line x1="414.8" y1="391.8" x2="418.3" y2="391.8" stroke="#000" stroke-width="1.0"/>
<text x="411.7" y="394.6" font-size="9" text-anchor="end">1000</text>
<line x1="414.8" y1="407.4" x2="418.3" y2="407.4" stroke="#000" stroke-width="1.0"/>
<text x="411.7" y="410.2" font-size="9" text-anchor="end">500</text>
<line x1="414.8" y1="423.0" x2="418.3" y2="423.0" stroke="#000" stroke-width="1.0"/>
<text x="411.7" y="425.8" font-size="9" text-anchor="end">0</text>
<text transform="translate(431.65,434.40) rotate(-45) scale(1.05,1)" font-size="8.6" text-anchor="end">Vehicle</text>
<text transform="translate(446.60,434.40) rotate(-45) scale(1.05,1)" font-size="8.6" text-anchor="end">S6-12.5</text>
<text transform="translate(461.55,434.40) rotate(-45) scale(1.05,1)" font-size="8.6" text-anchor="end">ven-25</text>
<text transform="translate(476.50,434.40) rotate(-45) scale(1.05,1)" font-size="8.6" text-anchor="end">ven-NP-25</text>
<text transform="translate(491.45,434.40) rotate(-45) scale(1.05,1)" font-size="8.6" text-anchor="end">S6-12.5 + ven-25</text>
<text transform="translate(506.40,434.40) rotate(-45) scale(1.05,1)" font-size="8.6" text-anchor="end">S6-12.5 +ven-NP-25</text>
<rect x="281.75" y="560.80" width="11.50" height="38.60" fill="#c8007a"/>
<rect x="296.55" y="558.80" width="11.50" height="40.60" fill="#2d4a7f"/>
<rect x="311.35" y="560.10" width="11.50" height="39.30" fill="#c6c4c9"/>
<rect x="326.15" y="561.90" width="11.50" height="37.50" fill="#63a845"/>
<rect x="340.95" y="560.70" width="11.50" height="38.70" fill="#8b82bf"/>
<rect x="355.75" y="561.60" width="11.50" height="37.80" fill="#e08b1b"/>
<line x1="287.5" y1="559.6" x2="287.5" y2="569.6" stroke="#000" stroke-width="1.2"/>
<line x1="284.2" y1="559.6" x2="290.8" y2="559.6" stroke="#000" stroke-width="1.2"/>
<line x1="284.2" y1="569.6" x2="290.8" y2="569.6" stroke="#000" stroke-width="1.2"/>
<line x1="302.3" y1="553.5" x2="302.3" y2="558.8" stroke="#000" stroke-width="1.2"/>
<line x1="299.0" y1="553.5" x2="305.6" y2="553.5" stroke="#000" stroke-width="1.2"/>
<line x1="317.1" y1="556.5" x2="317.1" y2="560.1" stroke="#000" stroke-width="1.2"/>
<line x1="313.8" y1="556.5" x2="320.40000000000003" y2="556.5" stroke="#000" stroke-width="1.2"/>
<line x1="331.9" y1="560.4" x2="331.9" y2="561.9" stroke="#000" stroke-width="1.2"/>
<line x1="328.59999999999997" y1="560.4" x2="335.2" y2="560.4" stroke="#000" stroke-width="1.2"/>
<line x1="346.7" y1="558.4" x2="346.7" y2="562.2" stroke="#000" stroke-width="1.2"/>
<line x1="343.4" y1="558.4" x2="350.0" y2="558.4" stroke="#000" stroke-width="1.2"/>
<line x1="343.4" y1="562.2" x2="350.0" y2="562.2" stroke="#000" stroke-width="1.2"/>
<line x1="361.5" y1="559.6" x2="361.5" y2="563.2" stroke="#000" stroke-width="1.2"/>
<line x1="358.2" y1="559.6" x2="364.8" y2="559.6" stroke="#000" stroke-width="1.2"/>
<line x1="358.2" y1="563.2" x2="364.8" y2="563.2" stroke="#000" stroke-width="1.2"/>
<line x1="277.5" y1="533.5" x2="277.5" y2="605.5" stroke="#000" stroke-width="1.15"/>
<line x1="276.95" y1="599.4" x2="371.5" y2="599.4" stroke="#000" stroke-width="1.4"/>
<line x1="287.5" y1="599.4" x2="287.5" y2="602.4" stroke="#000" stroke-width="1.0"/>
<line x1="302.3" y1="599.4" x2="302.3" y2="602.4" stroke="#000" stroke-width="1.0"/>
<line x1="317.1" y1="599.4" x2="317.1" y2="602.4" stroke="#000" stroke-width="1.0"/>
<line x1="331.9" y1="599.4" x2="331.9" y2="602.4" stroke="#000" stroke-width="1.0"/>
<line x1="346.7" y1="599.4" x2="346.7" y2="602.4" stroke="#000" stroke-width="1.0"/>
<line x1="361.5" y1="599.4" x2="361.5" y2="602.4" stroke="#000" stroke-width="1.0"/>
<line x1="274.0" y1="539.9" x2="277.5" y2="539.9" stroke="#000" stroke-width="1.0"/>
<text x="270.9" y="542.6999999999999" font-size="9" text-anchor="end">20</text>
<line x1="274.0" y1="555.5" x2="277.5" y2="555.5" stroke="#000" stroke-width="1.0"/>
<text x="270.9" y="558.3" font-size="9" text-anchor="end">15</text>
<line x1="274.0" y1="571.0" x2="277.5" y2="571.0" stroke="#000" stroke-width="1.0"/>
<text x="270.9" y="573.8" font-size="9" text-anchor="end">10</text>
<line x1="274.0" y1="586.6" x2="277.5" y2="586.6" stroke="#000" stroke-width="1.0"/>
<text x="270.9" y="589.4" font-size="9" text-anchor="end">5</text>
<line x1="274.0" y1="602.2" x2="277.5" y2="602.2" stroke="#000" stroke-width="1.0"/>
<text x="270.9" y="605.0" font-size="9" text-anchor="end">0</text>
<text transform="translate(291.10,610.80) rotate(-45) scale(1.05,1)" font-size="8.6" text-anchor="end">Vehicle</text>
<text transform="translate(305.90,610.80) rotate(-45) scale(1.05,1)" font-size="8.6" text-anchor="end">S6-12.5</text>
<text transform="translate(320.70,610.80) rotate(-45) scale(1.05,1)" font-size="8.6" text-anchor="end">ven-25</text>
<text transform="translate(335.50,610.80) rotate(-45) scale(1.05,1)" font-size="8.6" text-anchor="end">ven-NP 25</text>
<text transform="translate(350.30,610.80) rotate(-45) scale(1.05,1)" font-size="8.6" text-anchor="end">S6-12.5 + ven-25</text>
<text transform="translate(365.10,610.80) rotate(-45) scale(1.05,1)" font-size="8.6" text-anchor="end">S6-12.5 +ven-NP-25</text>
<rect x="422.30" y="551.80" width="11.50" height="47.50" fill="#c8007a"/>
<rect x="437.25" y="568.40" width="11.50" height="30.90" fill="#2d4a7f"/>
<rect x="452.20" y="566.00" width="11.50" height="33.30" fill="#c6c4c9"/>
<rect x="467.15" y="562.40" width="11.50" height="36.90" fill="#63a845"/>
<rect x="482.10" y="578.20" width="11.50" height="21.10" fill="#8b82bf"/>
<rect x="497.05" y="568.70" width="11.50" height="30.60" fill="#e08b1b"/>
<line x1="428.05" y1="541.8" x2="428.05" y2="569.7" stroke="#000" stroke-width="1.2"/>
<line x1="424.75" y1="541.8" x2="431.35" y2="541.8" stroke="#000" stroke-width="1.2"/>
<line x1="424.75" y1="569.7" x2="431.35" y2="569.7" stroke="#000" stroke-width="1.2"/>
<line x1="443.0" y1="557.2" x2="443.0" y2="568.4" stroke="#000" stroke-width="1.2"/>
<line x1="439.7" y1="557.2" x2="446.3" y2="557.2" stroke="#000" stroke-width="1.2"/>
<line x1="457.95" y1="557.6" x2="457.95" y2="566.0" stroke="#000" stroke-width="1.2"/>
<line x1="454.65" y1="557.6" x2="461.25" y2="557.6" stroke="#000" stroke-width="1.2"/>
<line x1="472.9" y1="548.8" x2="472.9" y2="562.4" stroke="#000" stroke-width="1.2"/>
<line x1="469.59999999999997" y1="548.8" x2="476.2" y2="548.8" stroke="#000" stroke-width="1.2"/>
<line x1="487.85" y1="573.7" x2="487.85" y2="581.9" stroke="#000" stroke-width="1.2"/>
<line x1="484.55" y1="573.7" x2="491.15000000000003" y2="573.7" stroke="#000" stroke-width="1.2"/>
<line x1="484.55" y1="581.9" x2="491.15000000000003" y2="581.9" stroke="#000" stroke-width="1.2"/>
<line x1="502.8" y1="548.3" x2="502.8" y2="590.3" stroke="#000" stroke-width="1.2"/>
<line x1="499.5" y1="548.3" x2="506.1" y2="548.3" stroke="#000" stroke-width="1.2"/>
<line x1="499.5" y1="590.3" x2="506.1" y2="590.3" stroke="#000" stroke-width="1.2"/>
<line x1="418.3" y1="530.4" x2="418.3" y2="599.8499999999999" stroke="#000" stroke-width="1.15"/>
<line x1="417.75" y1="599.3" x2="511.9" y2="599.3" stroke="#000" stroke-width="1.4"/>
<line x1="428.05" y1="599.3" x2="428.05" y2="602.3" stroke="#000" stroke-width="1.0"/>
<line x1="443.0" y1="599.3" x2="443.0" y2="602.3" stroke="#000" stroke-width="1.0"/>
<line x1="457.95" y1="599.3" x2="457.95" y2="602.3" stroke="#000" stroke-width="1.0"/>
<line x1="472.9" y1="599.3" x2="472.9" y2="602.3" stroke="#000" stroke-width="1.0"/>
<line x1="487.85" y1="599.3" x2="487.85" y2="602.3" stroke="#000" stroke-width="1.0"/>
<line x1="502.8" y1="599.3" x2="502.8" y2="602.3" stroke="#000" stroke-width="1.0"/>
<line x1="414.8" y1="536.9" x2="418.3" y2="536.9" stroke="#000" stroke-width="1.0"/>
<text x="411.7" y="539.6999999999999" font-size="9" text-anchor="end">5</text>
<line x1="414.8" y1="549.4" x2="418.3" y2="549.4" stroke="#000" stroke-width="1.0"/>
<text x="411.7" y="552.1999999999999" font-size="9" text-anchor="end">4</text>
<line x1="414.8" y1="561.9" x2="418.3" y2="561.9" stroke="#000" stroke-width="1.0"/>
<text x="411.7" y="564.6999999999999" font-size="9" text-anchor="end">3</text>
<line x1="414.8" y1="574.4" x2="418.3" y2="574.4" stroke="#000" stroke-width="1.0"/>
<text x="411.7" y="577.1999999999999" font-size="9" text-anchor="end">2</text>
<line x1="414.8" y1="586.9" x2="418.3" y2="586.9" stroke="#000" stroke-width="1.0"/>
<text x="411.7" y="589.6999999999999" font-size="9" text-anchor="end">1</text>
<line x1="414.8" y1="599.4" x2="418.3" y2="599.4" stroke="#000" stroke-width="1.0"/>
<text x="411.7" y="602.1999999999999" font-size="9" text-anchor="end">0</text>
<text transform="translate(431.65,610.70) rotate(-45) scale(1.05,1)" font-size="8.6" text-anchor="end">Vehicle</text>
<text transform="translate(446.60,610.70) rotate(-45) scale(1.05,1)" font-size="8.6" text-anchor="end">S6-12.5</text>
<text transform="translate(461.55,610.70) rotate(-45) scale(1.05,1)" font-size="8.6" text-anchor="end">ven-25</text>
<text transform="translate(476.50,610.70) rotate(-45) scale(1.05,1)" font-size="8.6" text-anchor="end">ven-NP-25</text>
<text transform="translate(491.45,610.70) rotate(-45) scale(1.05,1)" font-size="8.6" text-anchor="end">S6-12.5 + ven-25</text>
<text transform="translate(506.40,610.70) rotate(-45) scale(1.05,1)" font-size="8.6" text-anchor="end">S6-12.5 +ven-NP-25</text>
<text x="487.8" y="574.1" font-size="8.5" text-anchor="middle">*</text>
<rect x="0.5" y="0.5" width="519" height="677" fill="none" stroke="#000" stroke-width="1"/>
<rect x="1.5" y="1.5" width="517" height="675" fill="none" stroke="#000" stroke-opacity="0.45" stroke-width="1"/>
</svg></body></html>
